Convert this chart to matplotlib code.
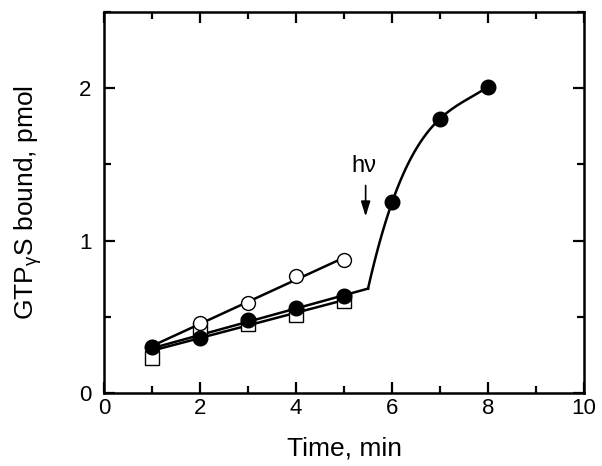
import numpy as np
import matplotlib.pyplot as plt
from matplotlib.ticker import MultipleLocator

plt.rcParams['font.family'] = ['Liberation Sans', 'DejaVu Sans']
plt.rcParams['mathtext.fontset'] = 'custom'
plt.rcParams['mathtext.rm'] = 'Liberation Sans'

# before illumination
t_pre = [1, 2, 3, 4, 5]
open_circ = [0.30, 0.46, 0.59, 0.77, 0.87]
open_err = [0.01, 0.02, 0.02, 0.03, 0.03]
squares = [0.23, 0.42, 0.455, 0.51, 0.60]
filled = [0.30, 0.36, 0.48, 0.56, 0.635]

# after illumination (hv at 5.5 min)
t_post = [6, 7, 8]
filled_post = [1.25, 1.80, 2.01]
t_light = 5.5

fig, ax = plt.subplots(figsize=(6.02, 4.66), dpi=100)
fig.subplots_adjust(left=0.173, right=0.970, bottom=0.157, top=0.974)

# linear fits for the pre-illumination data
xs = np.linspace(1, 5, 50)
for y in (open_circ, squares):
    p = np.polyfit(t_pre, y, 1)
    ax.plot(xs, np.polyval(p, xs), color='black', lw=1.8, zorder=2)

p_f = np.polyfit(t_pre, filled, 1)
xs_f = np.linspace(1, t_light, 50)
ax.plot(xs_f, np.polyval(p_f, xs_f), color='black', lw=1.8, zorder=2)

# smooth curve after the light flash
y_light = np.polyval(p_f, t_light)
c = np.polyfit([t_light] + t_post, [y_light] + filled_post, 3)
xc = np.linspace(t_light, 8, 100)
ax.plot(xc, np.polyval(c, xc), color='black', lw=1.8, zorder=2)

ax.plot(t_pre, squares, 's', ms=10.5, mfc='white', mec='black', mew=1.0, zorder=3)
ax.errorbar(t_pre, open_circ, yerr=open_err, fmt='o', ms=10, mfc='white',
            mec='black', mew=1.0, ecolor='black', elinewidth=1.0, capsize=3,
            zorder=4)
ax.plot(t_pre + t_post, filled + filled_post, 'o', ms=10.5, color='black', zorder=5)

ax.annotate('', xy=(5.45, 1.14), xytext=(5.45, 1.38),
            arrowprops=dict(arrowstyle='-|>,head_length=0.9,head_width=0.28',
                            color='black', lw=1.2))
ax.text(5.42, 1.49, 'h\u03bd', fontsize=17, ha='center', va='center')

ax.set_xlim(0, 10)
ax.set_ylim(0, 2.5)
ax.xaxis.set_major_locator(MultipleLocator(2))
ax.xaxis.set_minor_locator(MultipleLocator(1))
ax.yaxis.set_major_locator(MultipleLocator(1))
ax.yaxis.set_minor_locator(MultipleLocator(0.5))
ax.tick_params(which='both', direction='in', top=True, right=True,
               labelsize=16, width=1.6)
ax.tick_params(which='major', length=8)
ax.tick_params(which='minor', length=5)
ax.tick_params(axis='x', pad=4)
ax.tick_params(axis='y', pad=9)
for s in ax.spines.values():
    s.set_linewidth(1.8)

ax.set_xlabel('Time, min', fontsize=19, labelpad=12)
ax.set_ylabel('GTP$_{\\mathregular{\u03b3}}$S bound, pmol', fontsize=19,
              labelpad=25)

fig.savefig('out.png')
